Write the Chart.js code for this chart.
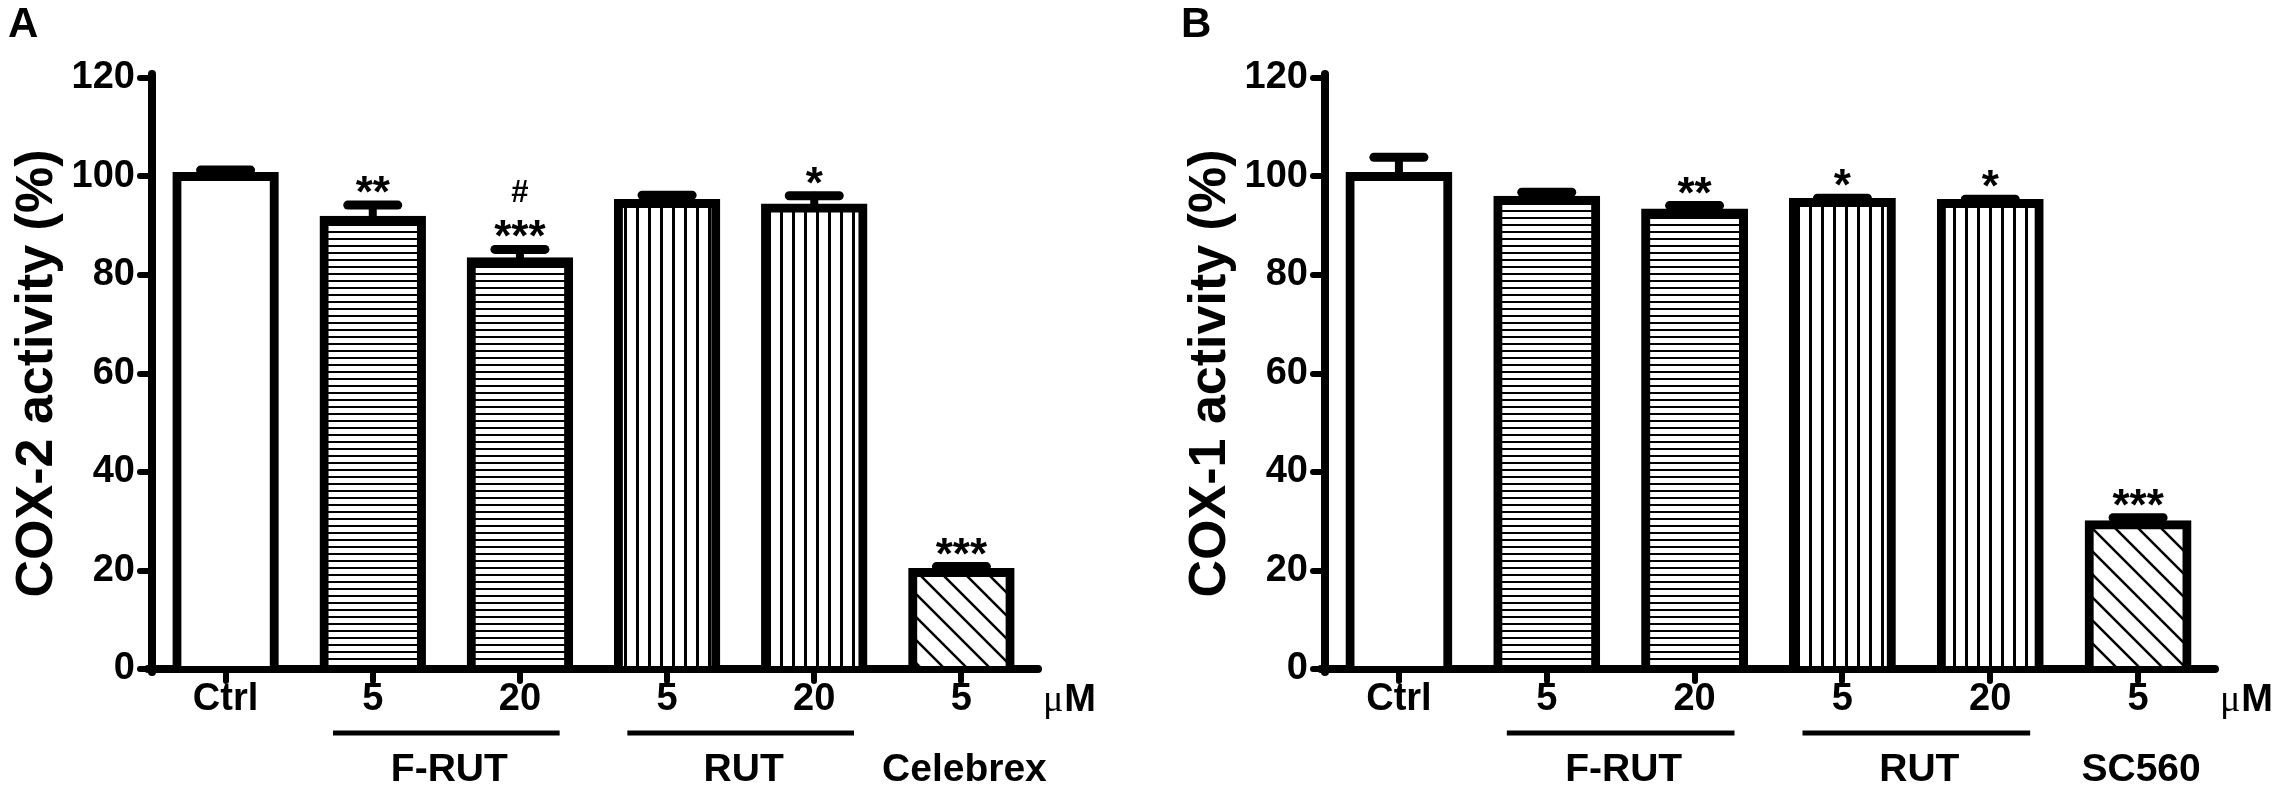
<!DOCTYPE html>
<html><head><meta charset="utf-8">
<script src="https://cdn.jsdelivr.net/npm/chart.js@4.4.1/dist/chart.umd.min.js"></script>
<style>
html,body{margin:0;padding:0;background:#fff;width:2295px;height:798px;overflow:hidden;}
canvas{position:absolute;top:0;}
#cA{left:0;}
#cB{left:1173px;}
</style></head><body>
<canvas id="cA" width="1173" height="798" style="width:1173px;height:798px"></canvas>
<canvas id="cB" width="1122" height="798" style="width:1122px;height:798px"></canvas>
<script>
// ---- data ----
const categories = ['Ctrl', '5', '20', '5', '20', '5'];
const cox2Values = [100, 91.1, 82.7, 94.5, 93.6, 19.6];
const cox2Errors = [1.3, 3.1, 2.5, 1.7, 2.5, 1.2];
const cox1Values = [100, 95.2, 92.6, 94.7, 94.5, 29.3];
const cox1Errors = [3.9, 1.6, 1.5, 0.9, 0.9, 1.4];
const cox2Marks = [[], ['**'], ['***', '#'], [], ['*'], ['***']];
const cox1Marks = [[], [], ['**'], ['*'], ['*'], ['***']];
const yTickValues = [0, 20, 40, 60, 80, 100, 120];
const groupsA = [
  {label: 'F-RUT', from: 1, to: 2, line: true},
  {label: 'RUT', from: 3, to: 4, line: true},
  {label: 'Celebrex', from: 5, to: 5, line: false}
];
const groupsB = [
  {label: 'F-RUT', from: 1, to: 2, line: true},
  {label: 'RUT', from: 3, to: 4, line: true},
  {label: 'SC560', from: 5, to: 5, line: false}
];
const fillKinds = ['open', 'hlines', 'hlines', 'vlines', 'vlines', 'diag'];
const unitLabel = ['\u03bc', 'M'];

const FONT = "'Liberation Sans', Arial, sans-serif";

function makePattern(kind) {
  if (kind === 'open') return '#ffffff';
  const c = document.createElement('canvas');
  const g = c.getContext('2d');
  if (kind === 'hlines') {
    c.width = 8; c.height = 7;
    g.fillStyle = '#fff'; g.fillRect(0, 0, 8, 7);
    g.fillStyle = '#000'; g.fillRect(0, 0, 8, 2);
  } else if (kind === 'vlines') {
    c.width = 12; c.height = 8;
    g.fillStyle = '#fff'; g.fillRect(0, 0, 12, 8);
    g.fillStyle = '#000'; g.fillRect(0, 0, 3, 8);
  } else {
    const s = 23;
    c.width = s; c.height = s;
    g.fillStyle = '#fff'; g.fillRect(0, 0, s, s);
    g.strokeStyle = '#000'; g.lineWidth = 2.5;
    for (const k of [-1, 0, 1]) {
      g.beginPath(); g.moveTo(k * s - 1, -1); g.lineTo(k * s + s + 1, s + 1); g.stroke();
    }
  }
  return g.createPattern(c, 'repeat');
}

function annotPlugin(values, errors, marks, groups, letter) {
  return {
    id: 'annot',
    beforeDraw(chart) { chart.ctx.lineCap = 'round'; },
    afterDatasetsDraw(chart) {
      const ctx = chart.ctx, y = chart.scales.y;
      const meta = chart.getDatasetMeta(0);
      ctx.save();
      ctx.strokeStyle = '#000';
      ctx.lineCap = 'round';
      values.forEach((v, i) => {
        const cx = meta.data[i].x;
        const yTop = y.getPixelForValue(v);
        const yErr = y.getPixelForValue(v + errors[i]);
        ctx.lineWidth = 8;
        ctx.beginPath(); ctx.moveTo(cx, yTop); ctx.lineTo(cx, yErr); ctx.stroke();
        ctx.lineWidth = 9;
        ctx.beginPath(); ctx.moveTo(cx - 25, yErr); ctx.lineTo(cx + 25, yErr); ctx.stroke();
      });
      ctx.restore();
    },
    afterDraw(chart) {
      const ctx = chart.ctx, x = chart.scales.x, y = chart.scales.y;
      const area = chart.chartArea;
      const meta = chart.getDatasetMeta(0);
      ctx.save();
      ctx.fillStyle = '#000';
      ctx.strokeStyle = '#000';
      ctx.textAlign = 'center';
      ctx.textBaseline = 'alphabetic';
      // significance marks
      marks.forEach((lines, i) => {
        const cx = meta.data[i].x;
        let base = y.getPixelForValue(values[i] + errors[i]) + 2;
        lines.forEach(t => {
          const isStar = t.indexOf('*') >= 0;
          ctx.font = 'bold ' + (isStar ? 44 : 31) + 'px ' + FONT;
          ctx.fillText(t, cx, base);
          base -= (isStar ? 31.5 : 22) + 18;
        });
      });
      // group labels and underlines
      const w = x.getPixelForValue(1) - x.getPixelForValue(0);
      groups.forEach(gp => {
        const x1 = x.getPixelForValue(gp.from), x2 = x.getPixelForValue(gp.to);
        const mid = (x1 + x2) / 2;
        if (gp.line) {
          const half = (x2 - x1) / 2 + 0.27 * w;
          ctx.lineCap = 'butt';
          ctx.lineWidth = 5;
          ctx.beginPath(); ctx.moveTo(mid - half, area.bottom + 64); ctx.lineTo(mid + half, area.bottom + 64); ctx.stroke();
        }
        ctx.font = 'bold 39px ' + FONT;
        ctx.fillText(gp.label, mid + 3, area.bottom + 112);
      });
      // unit
      ctx.textAlign = 'left';
      let ux = area.right + 8;
      ctx.font = '38px "Liberation Serif", "Times New Roman", serif';
      ctx.fillText(unitLabel[0], ux, area.bottom + 42);
      ux += ctx.measureText(unitLabel[0]).width + 1;
      ctx.font = 'bold 38px ' + FONT;
      ctx.fillText(unitLabel[1], ux, area.bottom + 42);
      // panel letter
      ctx.font = 'bold 42px ' + FONT;
      ctx.fillText(letter, 8, 37);
      ctx.restore();
    }
  };
}

function makeChart(id, values, errors, marks, groups, title, letter, padRight) {
  const canvas = document.getElementById(id);
  return new Chart(canvas, {
    type: 'bar',
    data: {
      labels: categories,
      datasets: [{
        data: values,
        backgroundColor: fillKinds.map(makePattern),
        borderColor: '#000',
        borderWidth: 9,
        borderSkipped: 'start',
        inflateAmount: 4.5,
        barPercentage: 0.662,
        categoryPercentage: 1.0
      }]
    },
    options: {
      responsive: false,
      animation: false,
      devicePixelRatio: 1,
      layout: {padding: {left: 6, top: 78, right: padRight, bottom: 0}},
      plugins: {legend: {display: false}, tooltip: {enabled: false}},
      scales: {
        x: {
          offset: true,
          z: 1,
          grid: {display: true, drawOnChartArea: false, drawTicks: true, tickLength: 12, tickWidth: 6, lineWidth: 6, tickColor: '#000', color: '#000', offset: false},
          border: {display: true, width: 8, color: '#000'},
          ticks: {color: '#000', font: {family: FONT, size: 38, weight: 'bold', lineHeight: 1}, padding: 0, maxRotation: 0, autoSkip: false},
          afterFit(s) { s.height = 129; }
        },
        y: {
          min: 0, max: 120,
          z: 1,
          afterBuildTicks(s) { s.ticks = yTickValues.map(v => ({value: v})); },
          grid: {display: true, drawOnChartArea: false, drawTicks: true, tickLength: 12, tickWidth: 6, lineWidth: 6, tickColor: '#000', color: '#000'},
          border: {display: true, width: 8, color: '#000'},
          ticks: {color: '#000', font: {family: FONT, size: 38, weight: 'bold', lineHeight: 1}, padding: 5},
          title: {display: true, text: title, color: '#000', font: {family: FONT, size: 52, weight: 'bold', lineHeight: 1.2}, padding: 0},
          afterFit(s) { s.width = 146; }
        }
      }
    },
    plugins: [annotPlugin(values, errors, marks, groups, letter)]
  });
}

makeChart('cA', cox2Values, cox2Errors, cox2Marks, groupsA, 'COX-2 activity (%)', 'A', 138);
makeChart('cB', cox1Values, cox1Errors, cox1Marks, groupsB, 'COX-1 activity (%)', 'B', 83);
</script>
</body></html>
